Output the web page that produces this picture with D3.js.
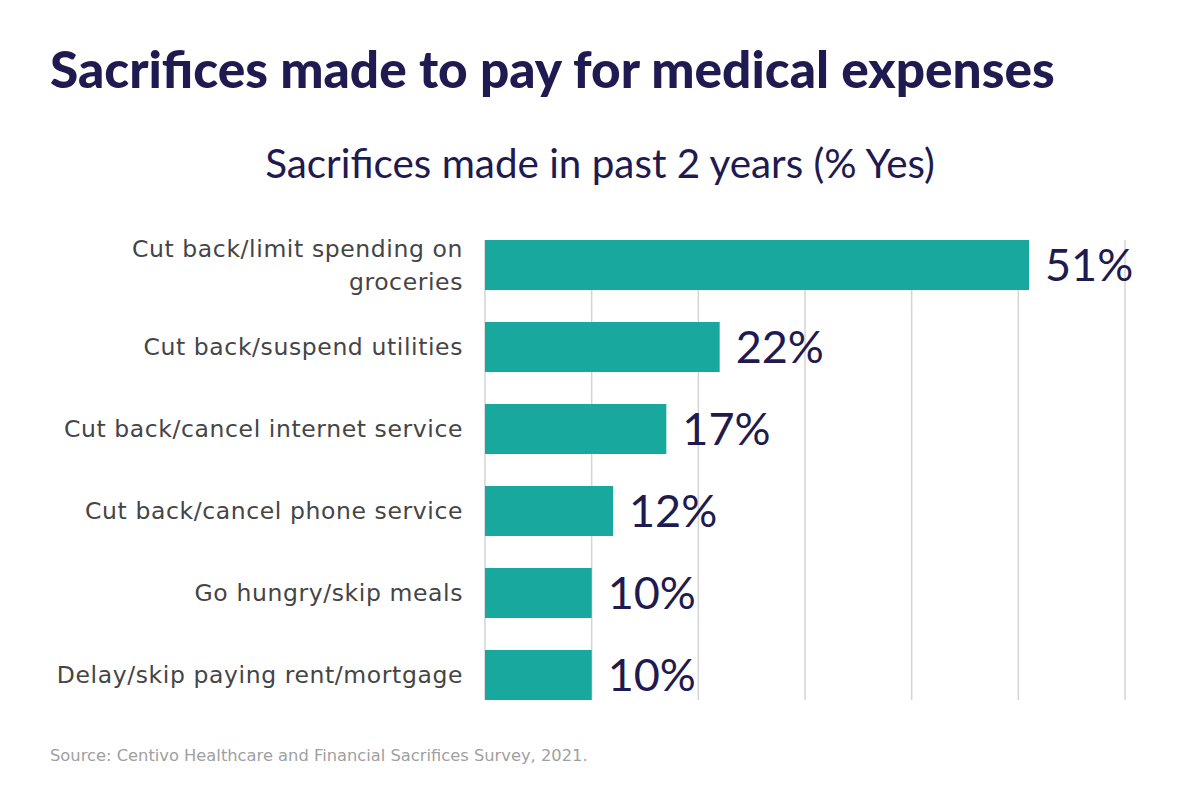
<!DOCTYPE html>
<html><head><meta charset="utf-8">
<script src="https://cdn.jsdelivr.net/npm/d3@7"></script>
<style>body{margin:0;background:#fff}</style>
</head><body>
<svg id="c" width="1200" height="800"></svg>
<script>
const categories = ["Cut back/limit spending on groceries","Cut back/suspend utilities","Cut back/cancel internet service","Cut back/cancel phone service","Go hungry/skip meals","Delay/skip paying rent/mortgage"];
const values = [51,22,17,12,10,10];
const gridTicks = [0,10,20,30,40,50,60];
const title = "Sacrifices made to pay for medical expenses";
const subtitle = "Sacrifices made in past 2 years (% Yes)";
const source = "Source: Centivo Healthcare and Financial Sacrifices Survey, 2021.";

const svg = d3.select("#c");
const navy = "#1f1a4f";
const x = d3.scaleLinear().domain([0,60]).range([485,1125]);
const y = d3.scaleBand().domain(categories).range([240,700]).paddingInner(0.39).paddingOuter(0);

function fit(sel, w){ const n=sel.node(); const l=n.getComputedTextLength(); const fs=parseFloat(sel.attr("font-size")); sel.attr("font-size", fs*w/l); }

const t = svg.append("text").attr("x",50).attr("y",88).attr("font-family","Lato").attr("font-weight",900)
  .attr("font-size",44).attr("fill",navy).text(title);
fit(t,1005);
const st = svg.append("text").attr("x",600).attr("y",178).attr("text-anchor","middle").attr("font-family","Lato").attr("font-weight",400)
  .attr("font-size",34).attr("fill",navy).text(subtitle);
fit(st,670);

// gridlines
svg.append("g").selectAll("line").data(gridTicks).join("line")
  .attr("x1",d=>x(d)).attr("x2",d=>x(d)).attr("y1",240).attr("y2",700)
  .attr("stroke","#d4d4d4").attr("stroke-width",1.5);

svg.append("g").selectAll("rect").data(values).join("rect")
  .attr("x",x(0)).attr("y",(d,i)=>y(categories[i])).attr("width",d=>x(d)-x(0)).attr("height",y.bandwidth())
  .attr("fill","#19a89d");

svg.append("g").selectAll("text").data(values).join("text")
  .attr("x",d=>x(d)+16).attr("y",(d,i)=>y(categories[i])+y.bandwidth()/2+16)
  .attr("font-family","Lato").attr("font-weight",400).attr("font-size",45).attr("fill",navy).text(d=>d+"%");

// category labels
const lab = svg.append("g");
categories.forEach((c,i)=>{
  const cy = y(c)+y.bandwidth()/2;
  const lines = i===0 ? ["Cut back/limit spending on","groceries"] : [c];
  const tx = lab.append("text").attr("text-anchor","end").attr("font-family","DejaVu Sans").attr("font-size",23.5)
    .attr("letter-spacing",0.6).attr("fill","#454545");
  lines.forEach((ln,j)=>{
    tx.append("tspan").attr("x",463).attr("y",cy+8+(j-(lines.length-1)/2)*33).text(ln);
  });
});
const s = svg.append("text").attr("x",50).attr("y",761).attr("font-family","DejaVu Sans").attr("font-size",14.5).attr("fill","#a0a0a0").text(source);
fit(s,538);
</script>
</body></html>
